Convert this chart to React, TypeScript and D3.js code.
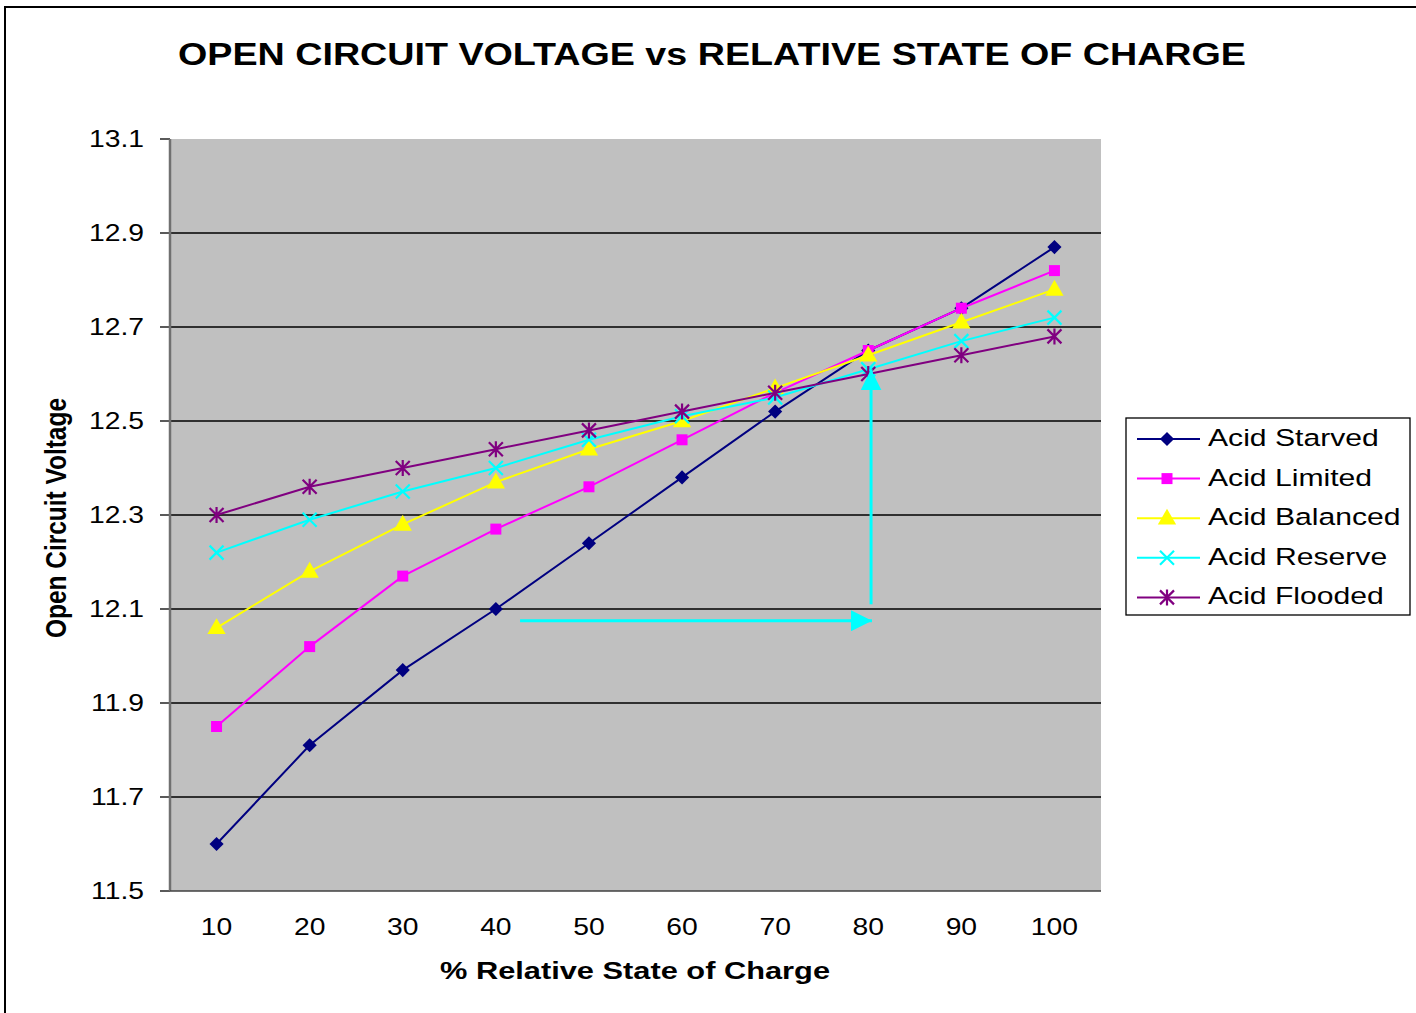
import * as d3 from 'd3';

const charge = [10, 20, 30, 40, 50, 60, 70, 80, 90, 100];
const starved = [11.6, 11.81, 11.97, 12.1, 12.24, 12.38, 12.52, 12.65, 12.74, 12.87];
const limited = [11.85, 12.02, 12.17, 12.27, 12.36, 12.46, 12.56, 12.65, 12.74, 12.82];
const balanced = [12.06, 12.18, 12.28, 12.37, 12.44, 12.5, 12.57, 12.64, 12.71, 12.78];
const reserve = [12.22, 12.29, 12.35, 12.4, 12.46, 12.51, 12.55, 12.61, 12.67, 12.72];
const flooded = [12.3, 12.36, 12.4, 12.44, 12.48, 12.52, 12.56, 12.6, 12.64, 12.68];
const yTicks = [11.5, 11.7, 11.9, 12.1, 12.3, 12.5, 12.7, 12.9, 13.1];

// annotation arrows, in data units (charge %, volts)
const arrowH = { x0: 42.6, x1: 80.4, y: 12.075 };
const arrowV = { x: 80.3, y0: 12.11, y1: 12.61 };

const series = [
  { name: 'Acid Starved', values: starved, color: '#000080', marker: 'diamond' },
  { name: 'Acid Limited', values: limited, color: '#FF00FF', marker: 'square' },
  { name: 'Acid Balanced', values: balanced, color: '#FFFF00', marker: 'triangle' },
  { name: 'Acid Reserve', values: reserve, color: '#00FFFF', marker: 'x' },
  { name: 'Acid Flooded', values: flooded, color: '#800080', marker: 'star' },
];

const W = 1416;
const H = 1013;
const plot = { left: 170, right: 1101, top: 139, bottom: 891 };
// the original text is drawn horizontally stretched
const stretch = 1.23;

const x = d3
  .scaleBand<number>()
  .domain(charge)
  .range([plot.left, plot.right]);
const xc = (v: number) => (x(v) ?? 0) + x.bandwidth() / 2;
// continuous version for annotations
const xl = d3.scaleLinear().domain([5, 105]).range([plot.left, plot.right]);
const y = d3.scaleLinear().domain([11.5, 13.1]).range([plot.bottom, plot.top]);

const font = 'Arial, "Liberation Sans", sans-serif';

function Marker({ type, color, cx, cy }: { type: string; color: string; cx: number; cy: number }) {
  if (type === 'diamond') {
    const p = d3.symbol().type(d3.symbolSquare).size(100)();
    return <path d={p ?? ''} transform={`translate(${cx},${cy}) rotate(45)`} fill={color} />;
  }
  if (type === 'square') {
    const p = d3.symbol().type(d3.symbolSquare).size(121)();
    return <path d={p ?? ''} transform={`translate(${cx},${cy})`} fill={color} />;
  }
  if (type === 'triangle') {
    const p = d3.symbol().type(d3.symbolTriangle).size(145)();
    return <path d={p ?? ''} transform={`translate(${cx},${cy + 1})`} fill={color} />;
  }
  const r = 7;
  const xPath = `M${-r},${-r}L${r},${r}M${-r},${r}L${r},${-r}`;
  const d = type === 'star' ? xPath + `M0,${-r - 1}L0,${r + 1}` : xPath;
  return <path d={d} transform={`translate(${cx},${cy})`} stroke={color} strokeWidth={2.2} fill="none" />;
}

export default function App() {
  const line = d3
    .line<number>()
    .x((_, i) => xc(charge[i]))
    .y(d => y(d));

  const legendTop = 437;
  const legendStep = 39.6;

  return (
    <svg
      width={W}
      height={H}
      style={{ position: 'absolute', left: 0, top: 0, background: '#fff' }}
      fontFamily={font}
    >
      <defs>
        <marker id="arrowHead" viewBox="0 0 10 10" refX="10" refY="5" markerWidth="7" markerHeight="7" markerUnits="strokeWidth" orient="auto">
          <path d="M0,0L10,5L0,10Z" fill="#00FFFF" />
        </marker>
      </defs>
      <rect x={5} y={7} width={W + 20} height={H + 20} fill="#fff" stroke="#000" strokeWidth={2} />

      <text x={178} y={65} fontSize={31} fontWeight="bold" textLength={1068} lengthAdjust="spacingAndGlyphs">
        OPEN CIRCUIT VOLTAGE vs RELATIVE STATE OF CHARGE
      </text>

      <rect x={plot.left} y={plot.top} width={plot.right - plot.left} height={plot.bottom - plot.top} fill="#C0C0C0" />

      {yTicks.slice(1, -1).map(t => (
        <line key={t} x1={plot.left} x2={plot.right} y1={y(t)} y2={y(t)} stroke="#000" strokeWidth={1.3} />
      ))}
      {yTicks.map(t => (
        <g key={'t' + t}>
          <line x1={plot.left - 10} x2={plot.left} y1={y(t)} y2={y(t)} stroke="#000" strokeWidth={1.3} />
          <text transform={`translate(144,${y(t) + 8}) scale(${stretch},1)`} textAnchor="end" fontSize={23}>
            {d3.format('.1f')(t)}
          </text>
        </g>
      ))}
      <line x1={plot.left} x2={plot.left} y1={plot.top} y2={plot.bottom} stroke="#707070" strokeWidth={2.5} />
      <line x1={plot.left} x2={plot.right} y1={plot.bottom} y2={plot.bottom} stroke="#404040" strokeWidth={1.5} />

      {charge.map(c => (
        <text key={c} transform={`translate(${xc(c)},935) scale(${stretch},1)`} textAnchor="middle" fontSize={23}>
          {c}
        </text>
      ))}

      <text x={440} y={979} fontSize={24} fontWeight="bold" textLength={390} lengthAdjust="spacingAndGlyphs">
        % Relative State of Charge
      </text>
      <text
        transform="translate(66,518) rotate(-90)"
        textAnchor="middle"
        fontSize={29}
        fontWeight="bold"
        textLength={240}
        lengthAdjust="spacingAndGlyphs"
      >
        Open Circuit Voltage
      </text>

      {series.map(s => (
        <g key={s.name}>
          <path d={line(s.values) ?? ''} fill="none" stroke={s.color} strokeWidth={2} />
          {s.values.map((v, i) => (
            <Marker key={i} type={s.marker} color={s.color} cx={xc(charge[i])} cy={y(v)} />
          ))}
        </g>
      ))}

      <line
        x1={xl(arrowH.x0)}
        x2={xl(arrowH.x1)}
        y1={y(arrowH.y)}
        y2={y(arrowH.y)}
        stroke="#00FFFF"
        strokeWidth={3}
        markerEnd="url(#arrowHead)"
      />
      <line
        x1={xl(arrowV.x)}
        x2={xl(arrowV.x)}
        y1={y(arrowV.y0)}
        y2={y(arrowV.y1)}
        stroke="#00FFFF"
        strokeWidth={3}
        markerEnd="url(#arrowHead)"
      />

      <rect x={1126} y={418} width={284} height={197} fill="#fff" stroke="#000" strokeWidth={1.3} />
      {series.map((s, i) => {
        const ly = legendTop + i * legendStep;
        return (
          <g key={'l' + s.name}>
            <line x1={1137} x2={1200} y1={ly + 2} y2={ly + 2} stroke={s.color} strokeWidth={2} />
            <Marker type={s.marker} color={s.color} cx={1167} cy={ly + 2} />
            <text transform={`translate(1208,${ly + 9}) scale(${stretch},1)`} fontSize={24.5}>
              {s.name}
            </text>
          </g>
        );
      })}
    </svg>
  );
}
